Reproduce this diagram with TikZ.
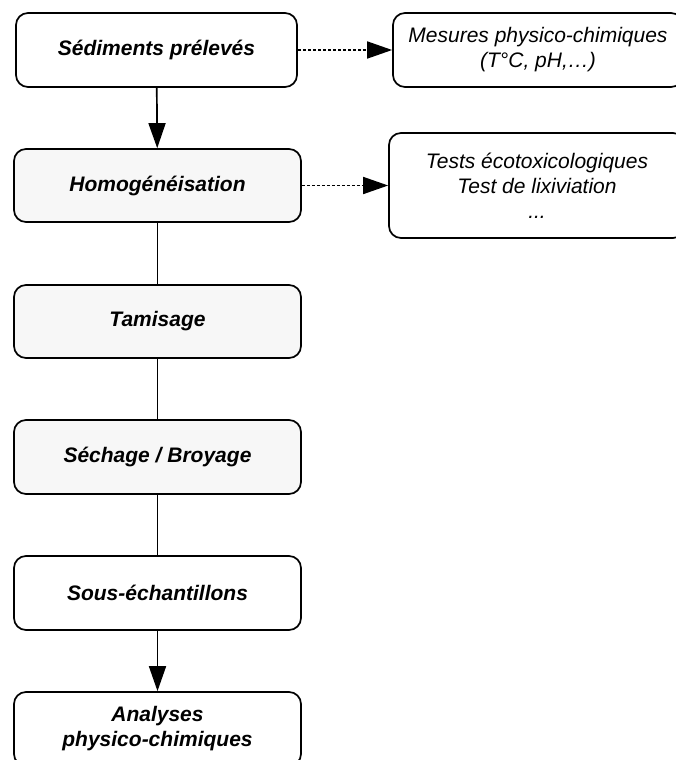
\documentclass[tikz,border=0pt]{standalone}
\usepackage{fontspec}
\setmainfont{Liberation Sans}
\usetikzlibrary{arrows.meta}
\begin{document}
\begin{tikzpicture}[x=1pt,y=-1pt,
  box/.style={draw,line width=1.7pt,rounded corners=12pt,fill=white,align=center,
    font=\fontsize{21}{25}\selectfont\bfseries\itshape, inner sep=0pt},
  graybox/.style={box,fill=gray!6},
  sidebox/.style={draw,line width=1.7pt,rounded corners=12pt,fill=white,align=center,
    font=\fontsize{21}{25}\selectfont\itshape, inner sep=0pt},
  arr/.style={line width=1.7pt,-{Triangle[width=17pt,length=25pt]}},
  dotarr/.style={line width=1.7pt,dash pattern=on 3pt off 2pt,-{Triangle[width=17pt,length=25pt]}},
  link/.style={line width=1.7pt}]
\useasboundingbox (0,0) rectangle (675,760);
\node[box,minimum width=281pt,minimum height=74pt] (s1) at (156.5,50) {Sédiments prélevés};
\node[graybox,minimum width=287pt,minimum height=73pt] (s2) at (157.5,185.5) {Homogénéisation};
\node[graybox,minimum width=287pt,minimum height=73pt] (s3) at (157.5,321.5) {Tamisage};
\node[graybox,minimum width=287pt,minimum height=74pt] (s4) at (157.5,457) {Séchage / Broyage};
\node[box,minimum width=287pt,minimum height=74pt] (s5) at (157.5,593) {Sous-échantillons};
\node[box,minimum width=287pt,minimum height=74pt] (s6) at (157.5,729) {Analyses\\physico-chimiques};
\node[sidebox,minimum width=290pt,minimum height=74pt] (r1) at (538,50) {Mesures physico-chimiques\\(T°C, pH,…)};
\node[sidebox,minimum width=296pt,minimum height=105pt] (r2) at (537,185.5) {Tests écotoxicologiques\\Test de lixiviation\\...};
\draw[arr] (s1) -- (s2);
\draw[link] (s2) -- (s3);
\draw[link] (s3) -- (s4);
\draw[link] (s4) -- (s5);
\draw[arr] (s5) -- (s6);
\draw[dotarr] (s1.east) -- (r1.west);
\draw[dotarr] (s2.east) -- (r2.west);
\end{tikzpicture}
\end{document}
